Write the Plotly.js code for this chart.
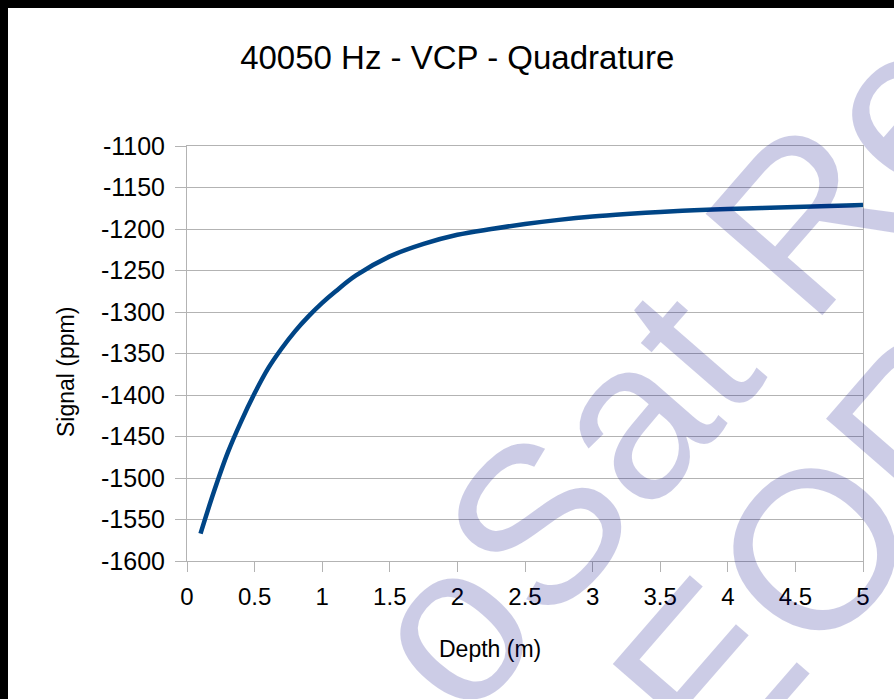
<!DOCTYPE html>
<html>
<head>
<meta charset="utf-8">
<script src="https://cdn.plot.ly/plotly-3.0.1.min.js"></script>
<style>
  html, body { margin: 0; padding: 0; background: #000; width: 894px; height: 699px; overflow: hidden; }
  #chart { position: absolute; left: 8px; top: 8px; width: 886px; height: 691px; background: #fff; }
</style>
</head>
<body>
<div id="chart"></div>
<script>
const depth = [0.1, 0.2, 0.3, 0.4, 0.5, 0.6, 0.7, 0.8, 0.9, 1.0, 1.1, 1.25, 1.5, 1.75, 2.0, 2.25, 2.5, 2.75, 3.0, 3.25, 3.5, 3.75, 4.0, 4.25, 4.5, 4.75, 5.0];
const signal = [-1567, -1516, -1470, -1432, -1398, -1368, -1344, -1323, -1305, -1289, -1275, -1256, -1233, -1218, -1207, -1200, -1194, -1189, -1185, -1182, -1179.5, -1177.5, -1176, -1174.7, -1173.5, -1172.3, -1171.2];
const xTicks = [0, 0.5, 1, 1.5, 2, 2.5, 3, 3.5, 4, 4.5, 5];
const yTicks = [-1600, -1550, -1500, -1450, -1400, -1350, -1300, -1250, -1200, -1150, -1100];
const titleText = "40050 Hz - VCP - Quadrature";
const xTitle = "Depth (m)";
const yTitle = "Signal (ppm)";
const watermark1 = "oSat Re";
const watermark2 = "EOR";

const FONT = "Liberation Sans, Arial, sans-serif";
const GRID = "#b3b3b3";
const WM = "rgba(0,0,128,0.2)";

const trace = {
  x: depth, y: signal, type: "scatter", mode: "lines",
  line: { color: "#004586", width: 4.5, shape: "spline", smoothing: 1 },
  hoverinfo: "skip"
};

const layout = {
  width: 886, height: 691,
  margin: { l: 179, r: 31, t: 138, b: 138 },
  paper_bgcolor: "#ffffff", plot_bgcolor: "#ffffff",
  showlegend: false,
  font: { family: FONT, color: "#000" },
  title: { text: titleText, font: { family: FONT, size: 33, color: "#000" },
           x: 0.507, xanchor: "center", xref: "container", y: 0.928, yanchor: "middle", yref: "container" },
  xaxis: {
    range: [0, 5], tickvals: xTicks, ticktext: xTicks.map(String),
    showgrid: false, zeroline: false,
    showline: true, linecolor: GRID, linewidth: 1, mirror: true,
    ticks: "outside", ticklen: 10, tickcolor: GRID, tickwidth: 1,
    ticklabelstandoff: 4,
    tickfont: { family: FONT, size: 24, color: "#000" }
  },
  yaxis: {
    range: [-1600, -1100], tickvals: yTicks, ticktext: yTicks.map(String),
    showgrid: true, gridcolor: GRID, gridwidth: 1, zeroline: false,
    showline: true, linecolor: GRID, linewidth: 1, mirror: true,
    ticks: "outside", ticklen: 11, tickcolor: GRID, tickwidth: 1,
    ticklabelstandoff: 5,
    tickfont: { family: FONT, size: 25, color: "#000" }
  },
  annotations: [
    { text: xTitle, xref: "paper", yref: "paper", x: (490 - 187) / 676, y: (561 - 649) / 415,
      xanchor: "center", yanchor: "middle", showarrow: false,
      font: { family: FONT, size: 23, color: "#000" } },
    { text: yTitle, xref: "paper", yref: "paper", x: (66 - 187) / 676, y: (561 - 372) / 415,
      xanchor: "center", yanchor: "middle", showarrow: false, textangle: -90,
      font: { family: FONT, size: 23, color: "#000" } },
    { text: watermark1, xref: "paper", yref: "paper", x: 0.719, y: 0.465, xanchor: "center", yanchor: "middle",
      showarrow: false, textangle: -49, font: { family: FONT, size: 225, color: WM } },
    { text: watermark2, xref: "paper", yref: "paper", x: 0.935, y: 0.04, xanchor: "center", yanchor: "middle",
      showarrow: false, textangle: -49, font: { family: FONT, size: 225, color: WM } }
  ]
};

Plotly.newPlot("chart", [trace], layout, { displayModeBar: false, staticPlot: true });
</script>
</body>
</html>
